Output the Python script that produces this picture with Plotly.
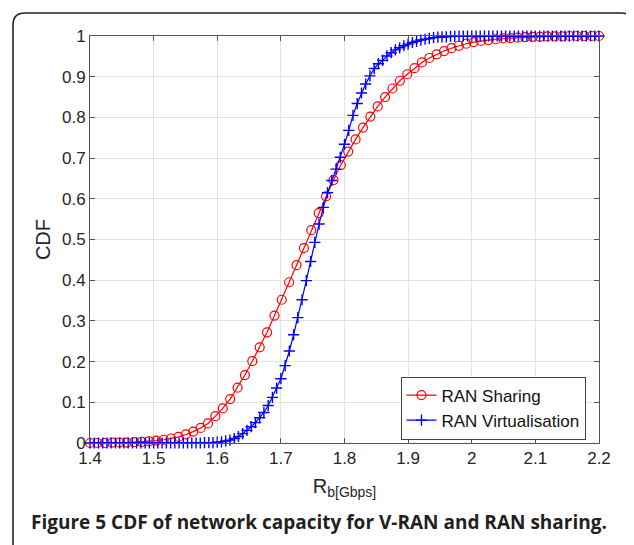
import plotly.graph_objects as go

# ---- data ----
sharing_x = [1.4000, 1.4116, 1.4232, 1.4348, 1.4464, 1.4580, 1.4696, 1.4812, 1.4928, 1.5043,
             1.5159, 1.5275, 1.5391, 1.5507, 1.5623, 1.5739, 1.5855, 1.5971, 1.6087, 1.6203,
             1.6319, 1.6435, 1.6551, 1.6667, 1.6783, 1.6899, 1.7014, 1.7130, 1.7246, 1.7362,
             1.7478, 1.7594, 1.7710, 1.7826, 1.7942, 1.8058, 1.8174, 1.8290, 1.8406, 1.8522,
             1.8638, 1.8754, 1.8870, 1.8986, 1.9101, 1.9217, 1.9333, 1.9449, 1.9565, 1.9681,
             1.9797, 1.9913, 2.0029, 2.0145, 2.0261, 2.0377, 2.0493, 2.0609, 2.0725, 2.0841,
             2.0957, 2.1072, 2.1188, 2.1304, 2.1420, 2.1536, 2.1652, 2.1768, 2.1884, 2.2000]
sharing_cdf = [0, 0, 0, 0.001, 0.001, 0.001, 0.002, 0.003, 0.004, 0.006,
               0.008, 0.011, 0.015, 0.021, 0.028, 0.037, 0.048, 0.066, 0.085, 0.108,
               0.136, 0.167, 0.201, 0.235, 0.272, 0.313, 0.352, 0.395, 0.437, 0.479,
               0.523, 0.565, 0.606, 0.646, 0.683, 0.716, 0.746, 0.775, 0.802, 0.827,
               0.850, 0.871, 0.890, 0.906, 0.921, 0.935, 0.946, 0.955, 0.963, 0.970,
               0.976, 0.981, 0.985, 0.988, 0.990, 0.992, 0.994, 0.995, 0.996, 0.997,
               0.998, 0.998, 0.999, 0.999, 0.999, 1, 1, 1, 1, 1]

virt_x = [1.4000, 1.4067, 1.4133, 1.4200, 1.4267, 1.4333, 1.4400, 1.4467, 1.4533, 1.4600,
          1.4667, 1.4733, 1.4800, 1.4867, 1.4933, 1.5000, 1.5067, 1.5133, 1.5200, 1.5267,
          1.5333, 1.5400, 1.5467, 1.5533, 1.5600, 1.5667, 1.5733, 1.5800, 1.5867, 1.5933,
          1.6000, 1.6067, 1.6133, 1.6200, 1.6267, 1.6333, 1.6400, 1.6467, 1.6533, 1.6600,
          1.6667, 1.6733, 1.6800, 1.6867, 1.6933, 1.7000, 1.7067, 1.7133, 1.7200, 1.7267,
          1.7333, 1.7400, 1.7467, 1.7533, 1.7600, 1.7667, 1.7733, 1.7800, 1.7867, 1.7933,
          1.8000, 1.8067, 1.8133, 1.8200, 1.8267, 1.8333, 1.8400, 1.8467, 1.8533, 1.8600,
          1.8667, 1.8733, 1.8800, 1.8867, 1.8933, 1.9000, 1.9067, 1.9133, 1.9200, 1.9267,
          1.9333, 1.9400, 1.9467, 1.9533, 1.9600, 1.9667, 1.9733, 1.9800, 1.9867, 1.9933,
          2.0000, 2.0067, 2.0133, 2.0200, 2.0267, 2.0333, 2.0400, 2.0467, 2.0533, 2.0600,
          2.0667, 2.0733, 2.0800, 2.0867, 2.0933, 2.1000, 2.1067, 2.1133, 2.1200, 2.1267,
          2.1333, 2.1400, 2.1467, 2.1533, 2.1600, 2.1667, 2.1733, 2.1800, 2.1867, 2.1933,
          2.2000]
virt_cdf = [0, 0, 0, 0, 0, 0, 0, 0, 0, 0,
            0, 0, 0, 0, 0, 0, 0, 0, 0, 0,
            0, 0, 0, 0, 0, 0, 0, 0.001, 0.001, 0.001,
            0.002, 0.003, 0.005, 0.007, 0.011, 0.016, 0.023, 0.031, 0.040, 0.050,
            0.062, 0.075, 0.092, 0.112, 0.135, 0.158, 0.190, 0.226, 0.266, 0.308,
            0.352, 0.399, 0.446, 0.493, 0.538, 0.579, 0.615, 0.645, 0.673, 0.702,
            0.734, 0.768, 0.805, 0.834, 0.860, 0.882, 0.902, 0.920, 0.932, 0.940,
            0.951, 0.959, 0.966, 0.971, 0.976, 0.980, 0.984, 0.987, 0.990, 0.992,
            0.994, 0.996, 0.997, 0.998, 0.998, 0.999, 0.999, 1, 1, 1,
            1, 1, 1, 1, 1, 1, 1, 1, 1, 1,
            1, 1, 1, 1, 1, 1, 1, 1, 1, 1,
            1, 1, 1, 1, 1, 1, 1, 1, 1, 1,
            1]

x_ticks = [1.4, 1.5, 1.6, 1.7, 1.8, 1.9, 2.0, 2.1, 2.2]
x_tick_labels = ["1.4", "1.5", "1.6", "1.7", "1.8", "1.9", "2", "2.1", "2.2"]
y_ticks = [0, 0.1, 0.2, 0.3, 0.4, 0.5, 0.6, 0.7, 0.8, 0.9, 1]
y_tick_labels = ["0", "0.1", "0.2", "0.3", "0.4", "0.5", "0.6", "0.7", "0.8", "0.9", "1"]

# the page body has an 8px margin, so figure pixels = screen pixels - 8
OFF = 8
W, H = 634 - OFF, 545 - OFF
L, R, T, B = 90 - OFF, 599 - OFF, 36 - OFF, 443 - OFF

FONT = "Liberation Sans, Arial, sans-serif"

fig = go.Figure()
fig.add_trace(go.Scatter(
    x=sharing_x, y=sharing_cdf, mode="lines+markers", name="RAN Sharing",
    line=dict(color="#ff0000", width=1.2),
    marker=dict(symbol="circle-open", size=9, color="#ff0000", line=dict(width=1.2, color="#ff0000")),
    cliponaxis=False,
))
fig.add_trace(go.Scatter(
    x=virt_x, y=virt_cdf, mode="lines+markers", name="RAN Virtualisation",
    line=dict(color="#0000ff", width=1.2),
    marker=dict(symbol="cross-thin-open", size=8, color="#0000ff", line=dict(width=1.4, color="#0000ff")),
    cliponaxis=False,
))


def px_x(p):
    """screen x pixel -> paper coordinate"""
    return (p - OFF - L) / (R - L)


def px_y(p):
    """screen y pixel -> paper coordinate"""
    return (B - (p - OFF)) / (B - T)


# rounded frame around the figure (decoration)
r = 12
fl, ft, fr, fb = 13, 13, 633, 580
path = (f"M {px_x(fl)},{px_y(fb)} L {px_x(fl)},{px_y(ft + r)} "
        f"Q {px_x(fl)},{px_y(ft)} {px_x(fl + r)},{px_y(ft)} "
        f"L {px_x(fr - r)},{px_y(ft)} "
        f"Q {px_x(fr)},{px_y(ft)} {px_x(fr)},{px_y(ft + r)} "
        f"L {px_x(fr)},{px_y(fb)}")
fig.add_shape(type="path", xref="paper", yref="paper", path=path,
              line=dict(color="#222222", width=1.6))

fig.add_annotation(
    xref="paper", yref="paper", x=px_x(29), y=px_y(522), xanchor="left", yanchor="middle",
    text="<b>Figure 5 CDF of network capacity for V-RAN and RAN sharing.</b>",
    showarrow=False, font=dict(family="Open Sans, sans-serif", size=19, color="#231f20"),
)

axis_common = dict(
    showline=True, linecolor="#555555", linewidth=1, mirror="ticks",
    ticks="inside", ticklen=5, tickcolor="#555555", tickwidth=1,
    showgrid=True, gridcolor="#e2e2e2", gridwidth=1, zeroline=False,
    tickfont=dict(family=FONT, size=17, color="#262626"),
    automargin=False,
)

fig.update_layout(
    width=W, height=H,
    margin=dict(l=L, r=W - R, t=T, b=H - B),
    paper_bgcolor="white", plot_bgcolor="white",
    showlegend=True,
    legend=dict(
        x=px_x(493), y=px_y(408), xanchor="center", yanchor="middle",
        bgcolor="white", bordercolor="#444444", borderwidth=1,
        font=dict(family=FONT, size=17, color="#111111"),
        tracegroupgap=0, itemwidth=30,
    ),
    xaxis=dict(range=[1.4, 2.2], tickvals=x_ticks, ticktext=x_tick_labels,
               title=dict(text="R<sub>b[Gbps]</sub>", font=dict(family=FONT, size=20, color="#262626"), standoff=11),
               **axis_common),
    yaxis=dict(range=[0, 1], tickvals=y_ticks, ticktext=y_tick_labels,
               title=dict(text="CDF", font=dict(family=FONT, size=20, color="#262626"), standoff=5),
               **axis_common),
)

fig.write_html("out.html")
